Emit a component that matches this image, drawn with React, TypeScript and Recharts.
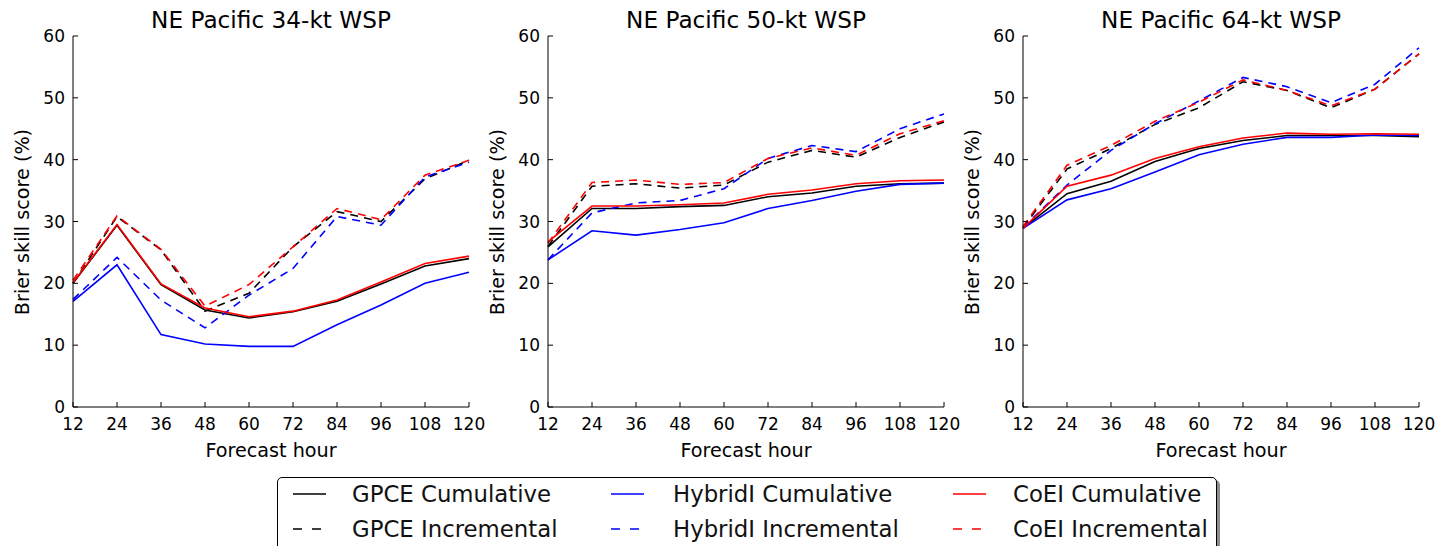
import { LineChart, Line, XAxis, YAxis } from "recharts";

const HOURS = [12, 24, 36, 48, 60, 72, 84, 96, 108, 120];
const Y_TICKS = [0, 10, 20, 30, 40, 50, 60];
const TITLES = ["NE Pacific 34-kt WSP", "NE Pacific 50-kt WSP", "NE Pacific 64-kt WSP"];

// 34-kt
const gpceCum34 = [20.0, 29.4, 19.8, 15.7, 14.4, 15.4, 17.1, 19.9, 22.8, 24.0];
const gpceInc34 = [20.0, 30.8, 25.4, 15.5, 18.4, 25.9, 31.6, 30.0, 36.9, 39.9];
const hybCum34 = [17.1, 23.0, 11.7, 10.2, 9.8, 9.8, 13.3, 16.5, 20.0, 21.8];
const hybInc34 = [17.4, 24.2, 17.3, 12.8, 18.1, 22.4, 30.8, 29.4, 37.2, 39.6];
const coeiCum34 = [20.1, 29.5, 19.9, 16.0, 14.6, 15.5, 17.3, 20.2, 23.2, 24.4];
const coeiInc34 = [20.5, 30.9, 25.5, 16.3, 19.8, 25.9, 32.1, 30.3, 37.5, 39.9];

// 50-kt
const gpceCum50 = [25.9, 32.1, 32.1, 32.4, 32.6, 34.0, 34.6, 35.7, 36.1, 36.2];
const gpceInc50 = [26.0, 35.7, 36.1, 35.4, 35.9, 39.6, 41.5, 40.4, 43.6, 46.1];
const hybCum50 = [23.8, 28.5, 27.8, 28.7, 29.8, 32.1, 33.4, 34.9, 36.0, 36.2];
const hybInc50 = [23.8, 31.4, 33.0, 33.4, 35.3, 40.2, 42.3, 41.3, 45.0, 47.4];
const coeiCum50 = [26.7, 32.5, 32.5, 32.7, 33.0, 34.4, 35.1, 36.1, 36.6, 36.7];
const coeiInc50 = [26.5, 36.3, 36.7, 36.0, 36.3, 40.2, 41.9, 40.7, 44.2, 46.3];

// 64-kt
const gpceCum64 = [28.9, 34.5, 36.5, 39.7, 41.8, 43.1, 43.9, 43.9, 43.9, 43.7];
const gpceInc64 = [29.0, 38.5, 41.8, 45.7, 48.4, 52.6, 51.2, 48.4, 51.4, 57.1];
const hybCum64 = [28.9, 33.5, 35.3, 38.0, 40.8, 42.5, 43.6, 43.6, 44.0, 43.9];
const hybInc64 = [29.0, 35.9, 41.5, 45.8, 49.5, 53.3, 51.8, 49.2, 52.2, 58.1];
const coeiCum64 = [28.9, 35.7, 37.5, 40.2, 42.1, 43.5, 44.3, 44.1, 44.2, 44.1];
const coeiInc64 = [29.2, 39.1, 42.3, 46.2, 49.3, 52.9, 51.2, 48.7, 51.4, 57.1];

const SERIES = [
  { key: "gpceCum", label: "GPCE Cumulative", color: "#000000", dashed: false },
  { key: "gpceInc", label: "GPCE Incremental", color: "#000000", dashed: true },
  { key: "hybCum", label: "HybridI Cumulative", color: "#0000ff", dashed: false },
  { key: "hybInc", label: "HybridI Incremental", color: "#0000ff", dashed: true },
  { key: "coeiCum", label: "CoEI Cumulative", color: "#ff0000", dashed: false },
  { key: "coeiInc", label: "CoEI Incremental", color: "#ff0000", dashed: true },
];

const PANELS = [
  [gpceCum34, gpceInc34, hybCum34, hybInc34, coeiCum34, coeiInc34],
  [gpceCum50, gpceInc50, hybCum50, hybInc50, coeiCum50, coeiInc50],
  [gpceCum64, gpceInc64, hybCum64, hybInc64, coeiCum64, coeiInc64],
];

const FONT = "'DejaVu Sans', sans-serif";
const PLOT_LEFTS = [73, 548, 1023];
const PLOT_W = 396;
const PLOT_TOP = 36;
const PLOT_BOTTOM = 407;
const DASH = "8 6";

function buildRows(values: number[][]) {
  return HOURS.map((h, i) => {
    const row: Record<string, number> = { hour: h };
    SERIES.forEach((s, j) => {
      row[s.key] = values[j][i];
    });
    return row;
  });
}

const tickStyle = { fontSize: 17, fill: "#000", fontFamily: FONT };

function Panel({ idx }: { idx: number }) {
  const left = PLOT_LEFTS[idx];
  const yAxisW = 45;
  const xAxisH = 30;
  const rightPad = 30;
  const chartW = 73 + PLOT_W + rightPad;
  const chartH = 460;
  return (
    <div style={{ position: "absolute", left: left - 73, top: 0 }}>
      <LineChart
        width={chartW}
        height={chartH}
        data={buildRows(PANELS[idx])}
        margin={{ top: PLOT_TOP, right: rightPad, left: 73 - yAxisW, bottom: chartH - PLOT_BOTTOM - xAxisH }}
      >
        <XAxis
          dataKey="hour"
          type="number"
          domain={[12, 120]}
          ticks={HOURS}
          interval={0}
          height={xAxisH}
          tick={tickStyle}
          tickSize={-5}
          tickMargin={16}
          axisLine={{ stroke: "#000" }}
          tickLine={{ stroke: "#000" }}
        />
        <XAxis
          xAxisId="top"
          orientation="top"
          dataKey="hour"
          type="number"
          domain={[12, 120]}
          ticks={HOURS}
          interval={0}
          height={0}
          tick={false}
          tickSize={-5}
          axisLine={{ stroke: "#000" }}
          tickLine={{ stroke: "#000" }}
        />
        <YAxis
          type="number"
          domain={[0, 60]}
          ticks={Y_TICKS}
          interval={0}
          width={yAxisW}
          tick={tickStyle}
          tickSize={-5}
          tickMargin={13}
          axisLine={{ stroke: "#000" }}
          tickLine={{ stroke: "#000" }}
        />
        <YAxis
          yAxisId="right"
          orientation="right"
          type="number"
          domain={[0, 60]}
          ticks={Y_TICKS}
          interval={0}
          width={0}
          tick={false}
          tickSize={-5}
          axisLine={{ stroke: "#000" }}
          tickLine={{ stroke: "#000" }}
        />
        {SERIES.map((s) => (
          <Line
            key={s.key}
            dataKey={s.key}
            stroke={s.color}
            strokeWidth={1.6}
            strokeDasharray={s.dashed ? DASH : undefined}
            dot={false}
            activeDot={false}
            isAnimationActive={false}
            type="linear"
          />
        ))}
      </LineChart>
      <div
        style={{
          position: "absolute",
          left: 73,
          width: PLOT_W,
          top: 8,
          textAlign: "center",
          fontSize: 23.2,
          lineHeight: "23px",
          fontFamily: FONT,
          whiteSpace: "nowrap",
        }}
      >
        {TITLES[idx]}
      </div>
      <div
        style={{
          position: "absolute",
          left: 73,
          width: PLOT_W,
          top: 441,
          textAlign: "center",
          fontSize: 19.2,
          lineHeight: "19px",
          fontFamily: FONT,
          whiteSpace: "nowrap",
        }}
      >
        Forecast hour
      </div>
      <div
        style={{
          position: "absolute",
          left: 23 - 120,
          top: 222 - 10,
          width: 240,
          height: 20,
          lineHeight: "20px",
          textAlign: "center",
          transform: "rotate(-90deg)",
          fontSize: 19.2,
          fontFamily: FONT,
          whiteSpace: "nowrap",
        }}
      >
        Brier skill score (%)
      </div>
    </div>
  );
}

const LEGEND_COLS = [
  { lineX: 293, textX: 352 },
  { lineX: 611, textX: 673 },
  { lineX: 953, textX: 1013 },
];
const LEGEND_ROWS = [494, 529];

function Legend() {
  return (
    <>
      <div
        style={{
          position: "absolute",
          left: 277,
          top: 477,
          width: 938,
          height: 90,
          border: "1px solid #000",
          borderRadius: 5,
          boxShadow: "3px 3px 0 rgba(0,0,0,0.45)",
          background: "#fff",
        }}
      />
      {SERIES.map((s, i) => {
        const col = LEGEND_COLS[Math.floor(i / 2)];
        const y = LEGEND_ROWS[i % 2];
        return (
          <div key={s.key}>
            <svg
              width={34}
              height={6}
              style={{ position: "absolute", left: col.lineX, top: y - 3 }}
            >
              <line
                x1={0}
                y1={3}
                x2={33}
                y2={3}
                stroke={s.color}
                strokeWidth={1.6}
                strokeDasharray={s.dashed ? "9 10" : undefined}
              />
            </svg>
            <div
              style={{
                position: "absolute",
                left: col.textX,
                top: y - 12,
                fontSize: 22.8,
                lineHeight: "24px",
                fontFamily: FONT,
                color: "#111",
                whiteSpace: "nowrap",
              }}
            >
              {s.label}
            </div>
          </div>
        );
      })}
    </>
  );
}

export default function App() {
  return (
    <div
      style={{
        position: "absolute",
        left: 0,
        top: 0,
        width: 1441,
        height: 546,
        overflow: "hidden",
        background: "#fff",
        fontFamily: FONT,
      }}
    >
      {[0, 1, 2].map((i) => (
        <Panel key={i} idx={i} />
      ))}
      <Legend />
    </div>
  );
}
